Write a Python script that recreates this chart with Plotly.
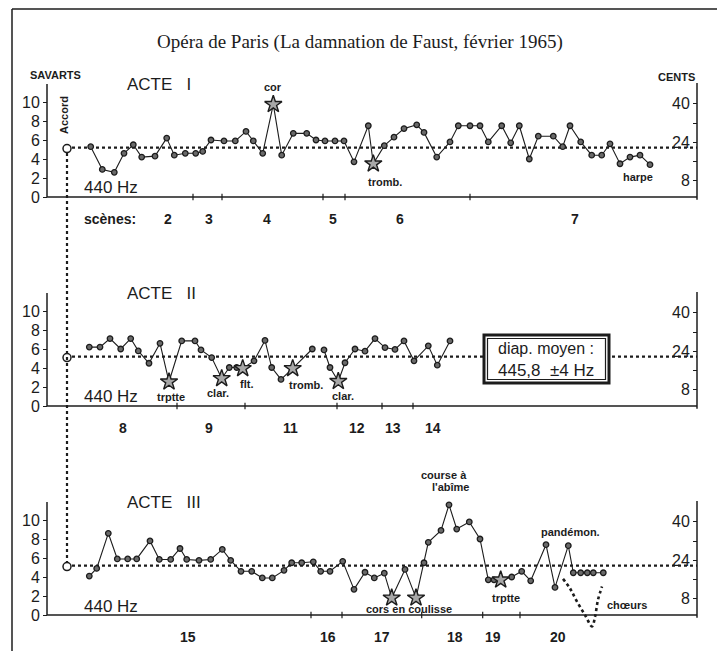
import plotly.graph_objects as go

W, H = 717, 651

# ---------------- data (savarts above 440 Hz, positions along the performance) -----------
act1_x = [90.7, 102.3, 114.3, 124, 133.3, 141.7, 155, 166.7, 174.3, 185.3, 195.7, 202.7, 211, 224,
          235.3, 246, 253.3, 262.7, 273.3, 281.7, 293.3, 306.7, 316, 325, 335, 344, 354, 368.3,
          373.3, 384.3, 394, 404, 416.7, 424, 436.7, 450, 458.3, 470, 480, 488.3, 501.7, 510.7,
          519.3, 529.3, 538.3, 553.3, 562.7, 570, 580.7, 591.7, 601.7, 610, 620, 630, 640, 650]
act1_y = [5.3, 2.9, 2.6, 4.6, 5.5, 4.2, 4.3, 6.2, 4.4, 4.6, 4.6, 4.8, 6.0, 5.9, 5.9, 6.9, 5.9, 4.6,
          9.75, 4.4, 6.7, 6.7, 6.0, 5.9, 5.9, 5.9, 3.7, 7.5, 3.5, 5.4, 6.3, 7.2, 7.6, 6.8, 4.2, 5.8,
          7.5, 7.5, 7.5, 5.8, 7.5, 5.7, 7.5, 4.0, 6.4, 6.4, 5.3, 7.5, 5.8, 4.4, 4.4, 5.6, 3.5, 4.2,
          4.4, 3.4]
act1_stars = [18, 28]

act2_x = [89.3, 100, 110, 120.7, 130.7, 138.3, 149, 160, 169, 181.7, 195, 201, 211.7, 221.7, 229.3,
          236.7, 242.7, 254, 265, 271.7, 281, 292.7, 312.3, None, 324, 330, 338.3, 345, 355, 365,
          375, 385, 395, 404, 414, 428.3, 437.3, 450]
act2_y = [6.2, 6.2, 7.1, 6.0, 7.1, 5.8, 4.5, 6.6, 2.55, 6.85, 6.85, 5.9, 5.1, 2.9, 4.05, 4.05, 3.95,
          4.75, 6.9, 4.05, 2.8, 3.95, 6.0, None, 5.9, 4.05, 2.6, 4.55, 6.0, 5.77, 7.1, 6.15, 5.95,
          6.85, 4.75, 6.33, 4.3, 6.85]
act2_stars = [8, 13, 16, 21, 26]

act3_x = [89.3, 96.7, 108.3, 117.3, 127.7, 136.7, 150, 159.3, 170.7, 180, 186.7, 199, 210.7, 222.3,
          230.7, 241, 251.7, 262.3, 272.3, 284, 291.7, 301.7, 313.3, 320.7, 330, 342.7, 354, 365,
          374.3, 384.3, 391.7, 405, 416, 424, 428.3, 441, 449, 456.7, 469.3, 480, 488.3, 494, 500.7,
          511.7, 521.7, 530.7, 546, 555, 568.3, 573.3, 580.7, 587.3, 593.3, 603.3]
act3_y = [4.1, 4.9, 8.6, 5.9, 5.9, 5.9, 7.8, 5.85, 5.85, 7.0, 5.85, 5.75, 5.85, 6.9, 5.75, 4.6, 4.6,
          3.9, 3.9, 4.7, 5.5, 5.5, 5.6, 4.6, 4.6, 5.65, 2.7, 4.5, 3.9, 4.4, 1.8, 4.8, 1.8, 5.5, 7.65,
          8.9, 11.6, 9.05, 9.8, 8.0, 3.7, 3.7, 3.7, 4.0, 4.6, 3.6, 7.4, 2.9, 7.3, 4.45, 4.45, 4.45,
          4.45, 4.45]
act3_stars = [30, 32, 42]

choeurs_x = [563, 570, 577, 585, 592, 595, 598, 602]
choeurs_y = [3.8, 2.8, 1.4, 0.0, -1.2, -0.2, 1.6, 3.0]

accord_x = 67
accord_y = 5.1
mean_level = 5.2          # diapason moyen, savarts

savart_ticks = [0, 2, 4, 6, 8, 10]
cent_ticks = [8, 16, 24, 32, 40]
cent_labels = ["8", "", "24", "", "40"]

scene_bounds = [[193, 222, 323, 345, 470],
                [177, 245, 337, 382, 413],
                [311, 342, 421.7, 482.7, 520]]
scene_labels = [[("scènes:", 110), ("2", 168), ("3", 209), ("4", 267), ("5", 333), ("6", 400), ("7", 575)],
                [("8", 123), ("9", 209), ("11", 290), ("12", 357), ("13", 393), ("14", 433)],
                [("15", 188), ("16", 328), ("17", 382), ("18", 455), ("19", 493), ("20", 558)]]
act_names = ["ACTE   I", "ACTE   II", "ACTE   III"]

instr_notes = [
    [("cor", 273, 87), ("tromb.", 385, 182), ("harpe", 638, 177)],
    [("trptte", 171, 397), ("clar.", 218, 393), ("flt.", 246, 384), ("tromb.", 306, 385), ("clar.", 343, 396)],
    [("course à", 444, 475), ("l'abîme", 450, 487), ("pandémon.", 570, 532), ("trptte", 506, 598),
     ("cors en coulisse", 409, 609), ("chœurs", 627, 605)],
]

# ---------------- layout geometry (pixels) ----------------
BASE = [197, 406, 615]      # pixel row of 0 savart in each panel
PPS = 9.5                   # pixels per savart
PPC = 2.406                 # pixels per cent
CENT_OFF = 3                # cents-axis zero is slightly below savart zero
X_AX0, X_AX1 = 47, 697
BELOW, ABOVE = 35, 140
INK = "#1c1c1c"
SANS = "Liberation Sans, Arial, sans-serif"


def py2paper(py):
    return 1 - py / H


fig = go.Figure()
layout = dict(
    width=W, height=H, margin=dict(l=0, r=0, t=0, b=0),
    paper_bgcolor="white", plot_bgcolor="white", showlegend=False,
    xaxis=dict(range=[0, W], domain=[0, 1], visible=False, fixedrange=True),
)
shapes, annots = [], []

acts = [(act1_x, act1_y, act1_stars), (act2_x, act2_y, act2_stars), (act3_x, act3_y, act3_stars)]
for i, (xs, ys, stars) in enumerate(acts):
    y0 = BASE[i]
    yname = "y" if i == 0 else f"y{i + 1}"
    ykey = "yaxis" if i == 0 else f"yaxis{i + 1}"
    cname = f"y{i + 4}"
    ckey = f"yaxis{i + 4}"
    dom = [py2paper(y0 + BELOW), py2paper(y0 - ABOVE)]
    srange = [-BELOW / PPS, ABOVE / PPS]
    crange = [(CENT_OFF - BELOW) / PPC, (CENT_OFF + ABOVE) / PPC]
    layout[ykey] = dict(domain=dom, range=srange, anchor="free", position=X_AX0 / W, side="left",
                        tickvals=savart_ticks, ticks="outside", ticklen=4, tickcolor=INK,
                        showgrid=False, zeroline=False, showline=False,
                        tickfont=dict(family=SANS, size=16, color=INK), fixedrange=True)
    layout[ckey] = dict(overlaying=yname, range=crange, anchor="free", position=X_AX1 / W,
                        side="left", tickvals=cent_ticks, ticktext=cent_labels, ticks="outside",
                        ticklen=4, tickcolor=INK, showgrid=False, zeroline=False, showline=False,
                        tickfont=dict(family=SANS, size=16, color=INK), fixedrange=True)
    # dummy trace so the cents axis is shown
    fig.add_trace(go.Scatter(x=[None], y=[None], xaxis="x", yaxis=cname, hoverinfo="skip"))

    # axes lines
    shapes.append(dict(type="line", xref="x", yref=yname, x0=X_AX0, x1=X_AX0, y0=0, y1=11.9,
                       line=dict(color=INK, width=1.5)))
    shapes.append(dict(type="line", xref="x", yref=yname, x0=X_AX1, x1=X_AX1, y0=-0.3, y1=12.0,
                       line=dict(color=INK, width=1.5)))
    shapes.append(dict(type="line", xref="x", yref=yname, x0=X_AX0, x1=X_AX1, y0=0, y1=0,
                       line=dict(color=INK, width=1.5)))
    for b in scene_bounds[i]:
        shapes.append(dict(type="line", xref="x", yref=yname, x0=b, x1=b, y0=-0.35, y1=0.35,
                           line=dict(color=INK, width=1.2)))
    # mean pitch dotted line
    shapes.append(dict(type="line", xref="x", yref=yname, x0=accord_x + 5, x1=X_AX1, y0=mean_level,
                       y1=mean_level, layer="below", line=dict(color=INK, width=2.2, dash="dot")))

    # data line
    fig.add_trace(go.Scatter(x=xs, y=ys, xaxis="x", yaxis=yname, mode="lines+markers",
                             line=dict(color=INK, width=1.1),
                             marker=dict(size=5.5, color="#6a6a6a", line=dict(color=INK, width=1.3)),
                             connectgaps=False, hoverinfo="skip"))
    fig.add_trace(go.Scatter(x=[xs[k] for k in stars], y=[ys[k] for k in stars], xaxis="x",
                             yaxis=yname, mode="markers",
                             marker=dict(symbol="star", size=13, color="#a8a8a8",
                                         line=dict(color=INK, width=1.4)), hoverinfo="skip"))
    # accord circle
    fig.add_trace(go.Scatter(x=[accord_x], y=[accord_y], xaxis="x", yaxis=yname, mode="markers",
                             marker=dict(symbol="circle-open", size=8, color=INK,
                                         line=dict(width=1.5)), hoverinfo="skip"))

    # texts
    annots.append(dict(text=act_names[i], x=125, y=py2paper(y0 - 113), xref="x", yref="paper",
                       xanchor="left", yanchor="middle", showarrow=False,
                       font=dict(family=SANS, size=17, color=INK)))
    annots.append(dict(text="440 Hz", x=111, y=py2paper(y0 - 9), xref="x", yref="paper",
                       xanchor="center", yanchor="middle", showarrow=False,
                       font=dict(family=SANS, size=17, color=INK)))
    for txt, xp in scene_labels[i]:
        annots.append(dict(text=f"<b>{txt}</b>", x=xp, y=py2paper(y0 + 22), xref="x", yref="paper",
                           xanchor="center", yanchor="middle", showarrow=False,
                           font=dict(family=SANS, size=14, color=INK)))
    for txt, xp, yp in instr_notes[i]:
        annots.append(dict(text=f"<b>{txt}</b>", x=xp, y=py2paper(yp), xref="x", yref="paper",
                           xanchor="center", yanchor="middle", showarrow=False,
                           font=dict(family=SANS, size=11, color=INK)))

# chœurs dotted curve
fig.add_trace(go.Scatter(x=choeurs_x, y=choeurs_y, xaxis="x", yaxis="y3", mode="lines",
                         line=dict(color=INK, width=2.6, dash="dot", shape="spline"),
                         hoverinfo="skip"))

# accord vertical dotted line across panels
shapes.append(dict(type="line", xref="x", yref="paper", x0=accord_x, x1=accord_x,
                   y0=py2paper(153), y1=py2paper(563), line=dict(color=INK, width=2.2, dash="dot")))

# frame
shapes.append(dict(type="line", xref="paper", yref="paper", x0=12 / W, x1=1, y0=py2paper(9),
                   y1=py2paper(9), line=dict(color=INK, width=1.5)))
shapes.append(dict(type="line", xref="paper", yref="paper", x0=12 / W, x1=12 / W, y0=py2paper(9),
                   y1=0, line=dict(color=INK, width=1.5)))

# diapason moyen box
shapes.append(dict(type="rect", xref="x", yref="paper", x0=484, x1=609, y0=py2paper(383),
                   y1=py2paper(335), fillcolor="white", line=dict(color=INK, width=3)))
shapes.append(dict(type="rect", xref="x", yref="paper", x0=487.5, x1=605.5, y0=py2paper(379.5),
                   y1=py2paper(338.5), fillcolor="rgba(0,0,0,0)", line=dict(color=INK, width=1.2)))
annots.append(dict(text="diap. moyen :", x=546, y=py2paper(348), xref="x", yref="paper",
                   xanchor="center", yanchor="middle", showarrow=False,
                   font=dict(family=SANS, size=16, color=INK)))
annots.append(dict(text="445,8  ±4 Hz", x=546, y=py2paper(370), xref="x", yref="paper",
                   xanchor="center", yanchor="middle", showarrow=False,
                   font=dict(family=SANS, size=17, color=INK)))

# headers
annots.append(dict(text="Opéra de Paris (La damnation de Faust, février 1965)", x=360 / W,
                   y=py2paper(42), xref="paper", yref="paper", xanchor="center", yanchor="middle",
                   showarrow=False, font=dict(family="Liberation Serif, Times New Roman, serif",
                                              size=19, color=INK)))
annots.append(dict(text="<b>SAVARTS</b>", x=55, y=py2paper(75), xref="x", yref="paper",
                   xanchor="center", yanchor="middle", showarrow=False,
                   font=dict(family=SANS, size=11, color=INK)))
annots.append(dict(text="<b>CENTS</b>", x=676, y=py2paper(77), xref="x", yref="paper",
                   xanchor="center", yanchor="middle", showarrow=False,
                   font=dict(family=SANS, size=11, color=INK)))
annots.append(dict(text="<b>Accord</b>", x=64, y=py2paper(115), xref="x", yref="paper",
                   xanchor="center", yanchor="middle", showarrow=False, textangle=-90,
                   font=dict(family=SANS, size=11, color=INK)))

layout["shapes"] = shapes
layout["annotations"] = annots
fig.update_layout(**layout)
fig.write_html("out.html", config={"displayModeBar": False})
